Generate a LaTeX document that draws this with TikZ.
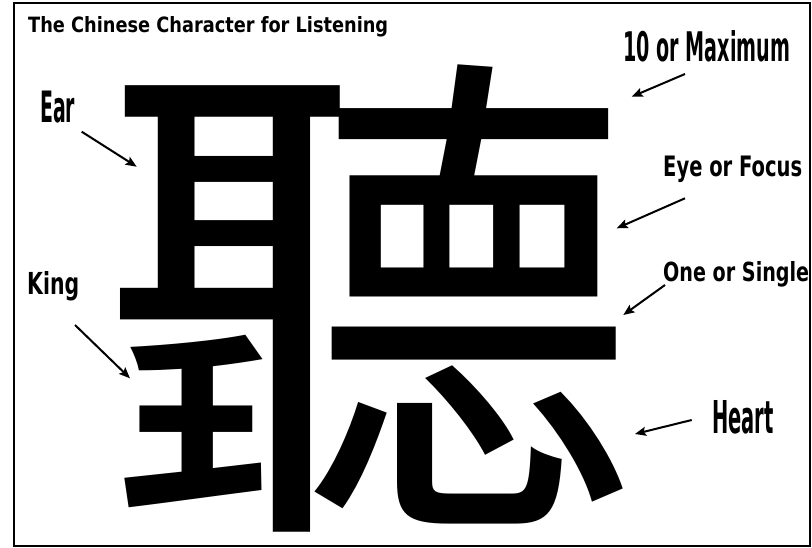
\documentclass[tikz,border=0pt]{standalone}
\usepackage{fontspec}
\usepackage{graphicx}
\usetikzlibrary{arrows.meta}
\newfontfamily\labfont{DejaVu Sans}[BoldFont={* Bold}]
\newfontfamily\cjkfont{Noto Sans CJK TC}
\newcommand{\lbl}[3]{\resizebox{#1pt}{#2pt}{\labfont\bfseries #3}}
\tikzset{
  lab/.style={inner sep=0pt, anchor=base west},
  arr/.style={line width=2pt, -{Stealth[length=11pt,width=9pt,inset=2pt]}},
  frame/.style={line width=2.5pt}
}
\begin{document}
\begin{tikzpicture}[x=1pt,y=-1pt]
\useasboundingbox (0,0) rectangle (812,548);
\fill[white] (0,0) rectangle (812,548);
\draw[frame] (14,3) rectangle (810,546);

\node[inner sep=0pt, anchor=base, text depth=30pt] (char) at (370.5,491) {\scalebox{1}[0.943]{\fontsize{540pt}{540pt}\selectfont\cjkfont 聽}};

\node[lab] (title) at (28,33) {\lbl{360}{16}{The Chinese Character for Listening}};
\node[lab] (max) at (623,62) {\lbl{167}{31}{10 or Maximum}};
\node[lab] (eye) at (663,177) {\lbl{139}{20.5}{Eye or Focus}};
\node[lab] (one) at (663,282) {\lbl{146}{20}{One or Single}};
\node[lab] (king) at (27,295) {\lbl{52}{23}{King}};
\node[lab] (heart) at (712,433) {\lbl{61.5}{33}{Heart}};
\node[lab] (ear) at (40,123) {\lbl{35}{31.5}{Ear}};

\coordinate (eartail) at (81.7,131.7);   \coordinate (eartip) at (136.7,166.7);
\coordinate (maxtail) at (685,74);      \coordinate (maxtip) at (631.7,96.7);
\coordinate (eyetail) at (685,198.3);   \coordinate (eyetip) at (616.7,228.3);
\coordinate (onetail) at (665,285);     \coordinate (onetip) at (623.3,315);
\coordinate (kingtail) at (75,325);     \coordinate (kingtip) at (130,378.3);
\coordinate (hearttail) at (691.7,420); \coordinate (hearttip) at (635,434);

\draw[arr] (eartail) -- (eartip);
\draw[arr] (maxtail) -- (maxtip);
\draw[arr] (eyetail) -- (eyetip);
\draw[arr] (onetail) -- (onetip);
\draw[arr] (kingtail) -- (kingtip);
\draw[arr] (hearttail) -- (hearttip);
\end{tikzpicture}
\end{document}
